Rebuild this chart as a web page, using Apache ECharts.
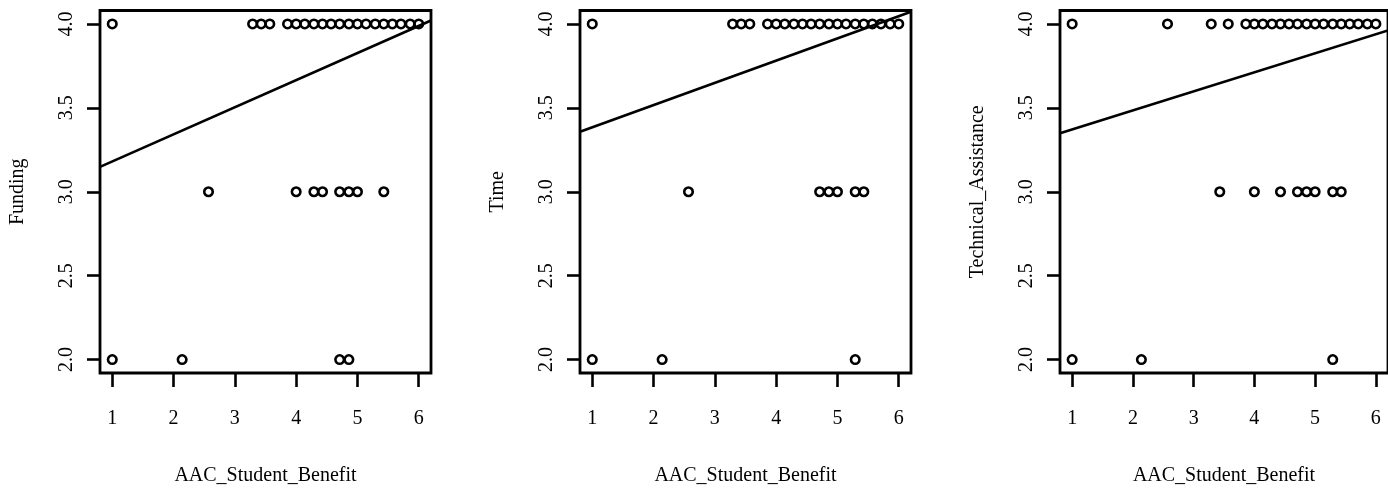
<!DOCTYPE html>
<html>
<head>
<meta charset="utf-8">
<script src="https://cdn.jsdelivr.net/npm/echarts@6/dist/echarts.min.js"></script>
<style>
html,body{margin:0;padding:0;background:#fff;}
#c{width:1388px;height:491px;}
</style>
</head>
<body>
<div id="c"></div>
<script>
// ---- data ----
const xName = 'AAC_Student_Benefit';
const panelNames = ['Funding', 'Time', 'Technical_Assistance'];
const xTicks = [1, 2, 3, 4, 5, 6];
const yTicks = [2.0, 2.5, 3.0, 3.5, 4.0];

const fundingX = [1, 3.29, 3.43, 3.57, 3.86, 4.00, 4.14, 4.29, 4.43, 4.57, 4.71, 4.86, 5.00, 5.14, 5.29, 5.43, 5.57, 5.71, 5.86, 6.00,
                  2.57, 4.00, 4.29, 4.43, 4.71, 4.86, 5.00, 5.43,
                  1, 2.14, 4.71, 4.86];
const fundingY = [4, 4, 4, 4, 4, 4, 4, 4, 4, 4, 4, 4, 4, 4, 4, 4, 4, 4, 4, 4,
                  3, 3, 3, 3, 3, 3, 3, 3,
                  2, 2, 2, 2];

const timeX = [1, 3.29, 3.43, 3.57, 3.86, 4.00, 4.14, 4.29, 4.43, 4.57, 4.71, 4.86, 5.00, 5.14, 5.29, 5.43, 5.57, 5.71, 5.86, 6.00,
               2.57, 4.71, 4.86, 5.00, 5.29, 5.43,
               1, 2.14, 5.29];
const timeY = [4, 4, 4, 4, 4, 4, 4, 4, 4, 4, 4, 4, 4, 4, 4, 4, 4, 4, 4, 4,
               3, 3, 3, 3, 3, 3,
               2, 2, 2];

const taX = [1, 2.57, 3.29, 3.57, 3.86, 4.00, 4.14, 4.29, 4.43, 4.57, 4.71, 4.86, 5.00, 5.14, 5.29, 5.43, 5.57, 5.71, 5.86, 6.00,
             3.43, 4.00, 4.43, 4.71, 4.86, 5.00, 5.29, 5.43,
             1, 2.14, 5.29];
const taY = [4, 4, 4, 4, 4, 4, 4, 4, 4, 4, 4, 4, 4, 4, 4, 4, 4, 4, 4, 4,
             3, 3, 3, 3, 3, 3, 3, 3,
             2, 2, 2];

// fitted line (intercept, slope)
const fitIntercept = [3.019, 3.252, 3.258];
const fitSlope = [0.1615, 0.1324, 0.1134];

const xRange = [0.8, 6.2];
const yRange = [1.92, 4.08];

// ---- chart ----
const panelsX = [fundingX, timeX, taX];
const panelsY = [fundingY, timeY, taY];
const FONT = "'Liberation Serif', 'DejaVu Serif', serif";

const grids = [], xAxes = [], yAxes = [], series = [];
for (let i = 0; i < 3; i++) {
  grids.push({
    left: 100 + 480 * i, top: 10.5, width: 331, height: 365.7,
    show: true, borderColor: '#000', borderWidth: 2.8, backgroundColor: 'transparent',
    containLabel: false
  });
  xAxes.push({
    type: 'value', gridIndex: i, min: xRange[0], max: xRange[1],
    name: xName, nameLocation: 'middle', nameGap: 93,
    nameTextStyle: {fontFamily: FONT, fontSize: 20, color: '#000'},
    axisLine: {show: false},
    axisTick: {show: true, inside: false, length: 14, customValues: xTicks,
               lineStyle: {color: '#000', width: 2.6}},
    axisLabel: {show: true, customValues: xTicks, margin: 36, fontFamily: FONT, fontSize: 20, color: '#000',
                formatter: v => String(v)},
    splitLine: {show: false}
  });
  yAxes.push({
    type: 'value', gridIndex: i, min: yRange[0], max: yRange[1],
    name: panelNames[i], nameLocation: 'middle', nameGap: 72,
    nameTextStyle: {fontFamily: FONT, fontSize: 20, color: '#000'},
    axisLine: {show: false},
    axisTick: {show: true, inside: false, length: 13, customValues: yTicks,
               lineStyle: {color: '#000', width: 2.6}},
    axisLabel: {show: true, customValues: yTicks, rotate: 90, margin: 23, fontFamily: FONT, fontSize: 20, color: '#000',
                formatter: v => Number(v).toFixed(1)},
    splitLine: {show: false}
  });
  const pts = panelsX[i].map((x, k) => [x, panelsY[i][k]]);
  series.push({
    type: 'scatter', xAxisIndex: i, yAxisIndex: i, data: pts,
    symbol: 'circle', symbolSize: 8.5,
    itemStyle: {color: 'rgba(0,0,0,0)', borderColor: '#000', borderWidth: 2.6, opacity: 1},
    emphasis: {disabled: true}, silent: true, z: 3
  });
  const a = fitIntercept[i], b = fitSlope[i];
  series.push({
    type: 'line', xAxisIndex: i, yAxisIndex: i,
    data: [[xRange[0], a + b * xRange[0]], [xRange[1], a + b * xRange[1]]],
    symbol: 'none', lineStyle: {color: '#000', width: 2.7}, clip: true,
    emphasis: {disabled: true}, silent: true, z: 4
  });
}

const chart = echarts.init(document.getElementById('c'), null, {renderer: 'canvas'});
chart.setOption({
  animation: false,
  backgroundColor: '#fff',
  grid: grids, xAxis: xAxes, yAxis: yAxes, series: series
});
</script>
</body>
</html>
